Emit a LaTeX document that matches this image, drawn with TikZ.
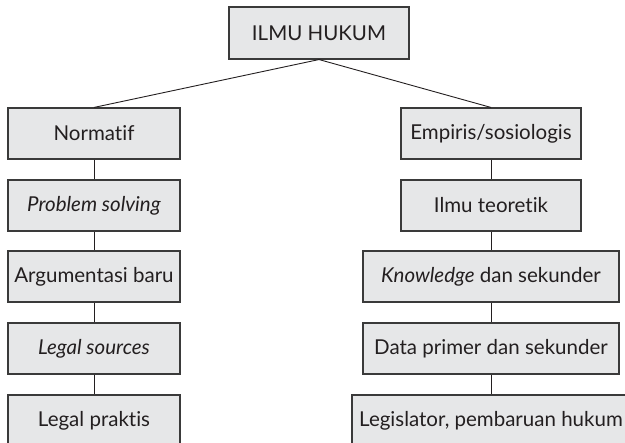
\documentclass[tikz,border=0pt]{standalone}
\usepackage{fontspec}
\setmainfont{Lato}[Ligatures=NoCommon]
\usetikzlibrary{positioning}
\definecolor{boxfill}{HTML}{E6E7E8}
\definecolor{boxline}{HTML}{3A3A3A}
\definecolor{ink}{HTML}{231F20}
\tikzset{
  box/.style={draw=boxline,fill=boxfill,line width=1.1pt,inner sep=0pt,minimum height=51pt,text=ink,font=\fontsize{20.5}{23}\selectfont},
  leftbox/.style={box,minimum width=172pt},
  rightbox/.style={box,minimum width=#1},
  link/.style={draw=ink,line width=0.9pt},
}
\begin{document}
\begin{tikzpicture}[x=1pt,y=-1pt]
    \useasboundingbox (0,0) rectangle (625,443);
    \node[box,minimum width=180pt,minimum height=52pt] (ilmu) at (319,33) {ILMU HUKUM};
    % left column
    \node[leftbox] (norm) at (94,133.5) {Normatif};
    \node[leftbox] (prob) at (94,205.5) {\textit{Problem solving}};
    \node[leftbox] (argu) at (94,276.5) {Argumentasi baru};
    \node[leftbox] (sour) at (94,348.5) {\textit{Legal sources}};
    \node[leftbox] (prak) at (94,420.5) {Legal praktis};
    % right column
    \node[rightbox=180pt] (emp) at (491,133.5) {Empiris/sosiologis};
    \node[rightbox=180pt] (teor) at (491,205.5) {Ilmu teoretik};
    \node[rightbox=256pt] (know) at (491,276.5) {\textit{Knowledge} dan sekunder};
    \node[rightbox=256pt] (data) at (491,348.5) {Data primer dan sekunder};
    \node[rightbox=278pt] (legi) at (491,420.5) {Legislator, pembaruan hukum};
    \draw[link] (ilmu.south) -- (norm.north); \draw[link] (ilmu.south) -- (emp.north);
    \draw[link] (norm) -- (prob); \draw[link] (prob) -- (argu);
    \draw[link] (argu) -- (sour); \draw[link] (sour) -- (prak);
    \draw[link] (emp) -- (teor); \draw[link] (teor) -- (know);
    \draw[link] (know) -- (data); \draw[link] (data) -- (legi);
\end{tikzpicture}
\end{document}
